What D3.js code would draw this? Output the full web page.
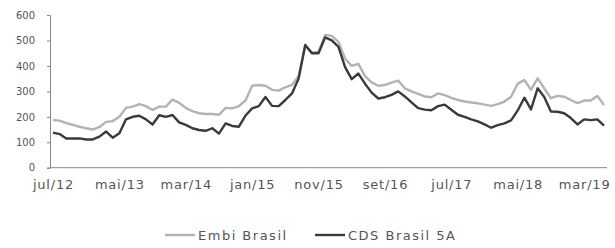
<!DOCTYPE html>
<html>
<head>
<meta charset="utf-8">
<script src="https://cdn.jsdelivr.net/npm/d3@7"></script>
<style>
  body { margin: 0; background: #fff; }
  text { font-family: "DejaVu Sans", Verdana, sans-serif; fill: #555; }
</style>
</head>
<body>
<div id="chart"></div>
<script>
// monthly, jul/12 .. jun/19
const monthNames = ['jan', 'fev', 'mar', 'abr', 'mai', 'jun', 'jul', 'ago', 'set', 'out', 'nov', 'dez'];
const months = [];
for (let i = 0; i < 84; i++) {
    const m = (6 + i) % 12, y = 12 + Math.floor((6 + i) / 12);
    months.push(monthNames[m] + '/' + y);
}

const embi = [
    187, 185, 175, 168, 161, 155, 150, 160, 180, 183,
    200, 235, 240, 250, 242, 227, 240, 240, 268, 255,
    235, 222, 214, 211, 211, 208, 235, 233, 242, 264,
    322, 325, 322, 306, 303, 316, 325, 360, 482, 452,
    456, 522, 518, 494, 428, 400, 408, 360, 335, 322,
    325, 334, 342, 312, 300, 290, 280, 277, 292, 285,
    274, 266, 260, 256, 253, 248, 243, 250, 260, 279,
    330, 345, 306, 351, 312, 273, 282, 279, 266, 254,
    264, 264, 282, 246
];

const cds = [
    138, 132, 115, 115, 115, 111, 111, 122, 142, 118,
    135, 190, 200, 204, 190, 170, 206, 200, 207, 178,
    168, 155, 148, 145, 155, 134, 174, 164, 161, 205,
    233, 242, 278, 243, 242, 266, 292, 350, 482, 450,
    450, 512, 500, 475, 395, 348, 370, 330, 295, 272,
    277, 286, 300, 280, 257, 234, 228, 226, 242, 248,
    228, 208, 200, 190, 182, 170, 157, 167, 174, 186,
    225, 275, 229, 312, 278, 221, 220, 214, 195, 170,
    190, 187, 190, 165
];

const yTicks = [0, 100, 200, 300, 400, 500, 600];
const xLabels = ['jul/12', 'mai/13', 'mar/14', 'jan/15', 'nov/15', 'set/16', 'jul/17', 'mai/18', 'mar/19'];

const series = [
    { name: 'Embi Brasil', values: embi, color: '#b3b3b3' },
    { name: 'CDS Brasil 5A', values: cds, color: '#3a3a3a' }
];

const width = 615, height = 248;
const margin = { top: 15, left: 50, right: 8, bottom: 80 };

const svg = d3.select('#chart').append('svg')
    .attr('width', width)
    .attr('height', height);

const x = d3.scalePoint()
    .domain(months)
    .range([margin.left, width - margin.right])
    .padding(0.45);

const y = d3.scaleLinear()
    .domain([0, 600])
    .range([height - margin.bottom - 0.3, margin.top]);

// y axis
const yAxis = d3.axisLeft(y).tickValues(yTicks).tickSize(3).tickPadding(12);
const yG = svg.append('g')
    .attr('transform', `translate(${margin.left},0)`)
    .call(yAxis);
yG.selectAll('path, line').attr('stroke', '#888');
yG.selectAll('text').style('font-size', '10px').attr('fill', '#555');

// x axis line and labels
const xAxis = d3.axisBottom(x).tickValues(xLabels).tickSize(0).tickPadding(12);
const xG = svg.append('g')
    .attr('transform', `translate(0,${y(0)})`)
    .call(xAxis);
xG.select('.domain')
    .attr('stroke', '#888')
    .attr('d', `M${margin.left},0H${width - margin.right}`);
xG.selectAll('text')
    .style('font-size', '13px')
    .style('letter-spacing', '0.8px')
    .attr('fill', '#555');

// lines
const line = d3.line()
    .x((d, i) => x(months[i]))
    .y(d => y(d));

svg.selectAll('.series')
    .data(series)
    .join('path')
    .attr('class', 'series')
    .attr('fill', 'none')
    .attr('stroke', d => d.color)
    .attr('stroke-width', 2.4)
    .attr('stroke-linejoin', 'round')
    .attr('d', d => line(d.values));

// legend
const legendX = [165, 315];
const legend = svg.selectAll('.legend')
    .data(series)
    .join('g')
    .attr('class', 'legend')
    .attr('transform', (d, i) => `translate(${legendX[i]},235)`);
legend.append('line')
    .attr('x1', 0).attr('x2', 30)
    .attr('stroke', d => d.color)
    .attr('stroke-width', 2.4);
legend.append('text')
    .attr('x', 33)
    .attr('dy', '0.35em')
    .style('font-size', '13px')
    .style('letter-spacing', '1.5px')
    .text(d => d.name);
</script>
</body>
</html>
